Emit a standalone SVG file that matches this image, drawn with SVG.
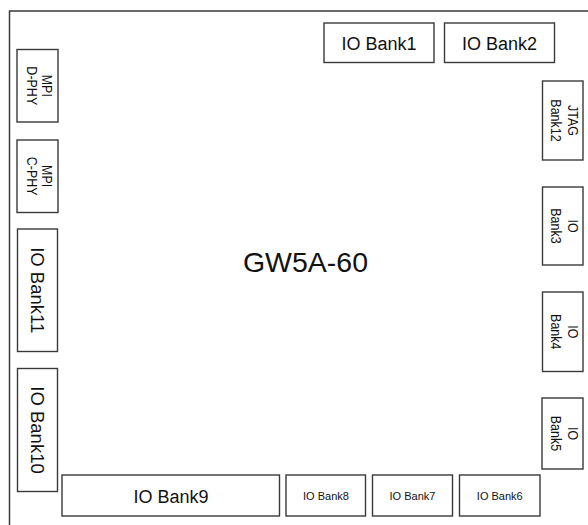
<svg xmlns="http://www.w3.org/2000/svg" width="588" height="525" viewBox="0 0 588 525">
<style>
.b{fill:#fff;stroke:#3a3a3a;stroke-width:1.4}
.t{font-family:"Liberation Sans",Arial,sans-serif;fill:#111;text-anchor:middle}
.big{font-size:18px}
.sm{font-size:11px}
.v{font-size:12.5px}
.vl{font-size:18.5px}
</style>
<rect width="588" height="525" fill="#fff"/>
<g id="chip">
<path d="M9.5 525 V11 H588" fill="none" stroke="#3a3a3a" stroke-width="1.5"/>
<text class="t" x="305.5" y="272" font-size="28.5">GW5A-60</text>
</g>
<g id="bank1"><rect class="b" x="324" y="23" width="110" height="39.5"/><text class="t big" x="379" y="50">IO Bank1</text></g>
<g id="bank2"><rect class="b" x="444.5" y="23" width="110" height="39.5"/><text class="t big" x="499.5" y="50">IO Bank2</text></g>
<g id="mpi-dphy"><rect class="b" x="17" y="49.5" width="41" height="72.5"/>
<text class="t v" transform="translate(41.7,85.8) rotate(90) scale(1,1.2)">MPI</text>
<text class="t v" transform="translate(26.7,85.8) rotate(90) scale(1,1.2)">D-PHY</text></g>
<g id="mpi-cphy"><rect class="b" x="17" y="140" width="41" height="72.5"/>
<text class="t v" transform="translate(41.7,176.2) rotate(90) scale(1,1.2)">MPI</text>
<text class="t v" transform="translate(26.7,176.2) rotate(90) scale(1,1.2)">C-PHY</text></g>
<g id="bank11"><rect class="b" x="17.5" y="229" width="40" height="122.5"/>
<text class="t vl" transform="translate(31,290.2) rotate(90)">IO Bank11</text></g>
<g id="bank10"><rect class="b" x="17.5" y="368.5" width="40" height="123"/>
<text class="t vl" transform="translate(31,430) rotate(90)">IO Bank10</text></g>
<g id="bank12"><rect class="b" x="542.5" y="81" width="40.5" height="79"/>
<text class="t v" transform="translate(568,120.5) rotate(90) scale(1,1.2)">JTAG</text>
<text class="t v" transform="translate(551,120.5) rotate(90) scale(1,1.2)">Bank12</text></g>
<g id="bank3"><rect class="b" x="542.5" y="187" width="40.5" height="78"/>
<text class="t v" transform="translate(568,226) rotate(90) scale(1,1.2)">IO</text>
<text class="t v" transform="translate(551,226) rotate(90) scale(1,1.2)">Bank3</text></g>
<g id="bank4"><rect class="b" x="542.5" y="292" width="40.5" height="79.5"/>
<text class="t v" transform="translate(568,331.8) rotate(90) scale(1,1.2)">IO</text>
<text class="t v" transform="translate(551,331.8) rotate(90) scale(1,1.2)">Bank4</text></g>
<g id="bank5"><rect class="b" x="542" y="398" width="41" height="71"/>
<text class="t v" transform="translate(568,433.5) rotate(90) scale(1,1.2)">IO</text>
<text class="t v" transform="translate(551,433.5) rotate(90) scale(1,1.2)">Bank5</text></g>
<g id="bank9"><rect class="b" x="62" y="475" width="217.5" height="41"/><text class="t big" x="171" y="502.5">IO Bank9</text></g>
<g id="bank8"><rect class="b" x="286" y="475" width="79.5" height="41"/><text class="t sm" x="326" y="500">IO Bank8</text></g>
<g id="bank7"><rect class="b" x="372.5" y="475" width="80" height="41"/><text class="t sm" x="412.5" y="500">IO Bank7</text></g>
<g id="bank6"><rect class="b" x="459.5" y="475" width="80.5" height="41"/><text class="t sm" x="499.8" y="500">IO Bank6</text></g>
<g id="connectors"/>
</svg>
